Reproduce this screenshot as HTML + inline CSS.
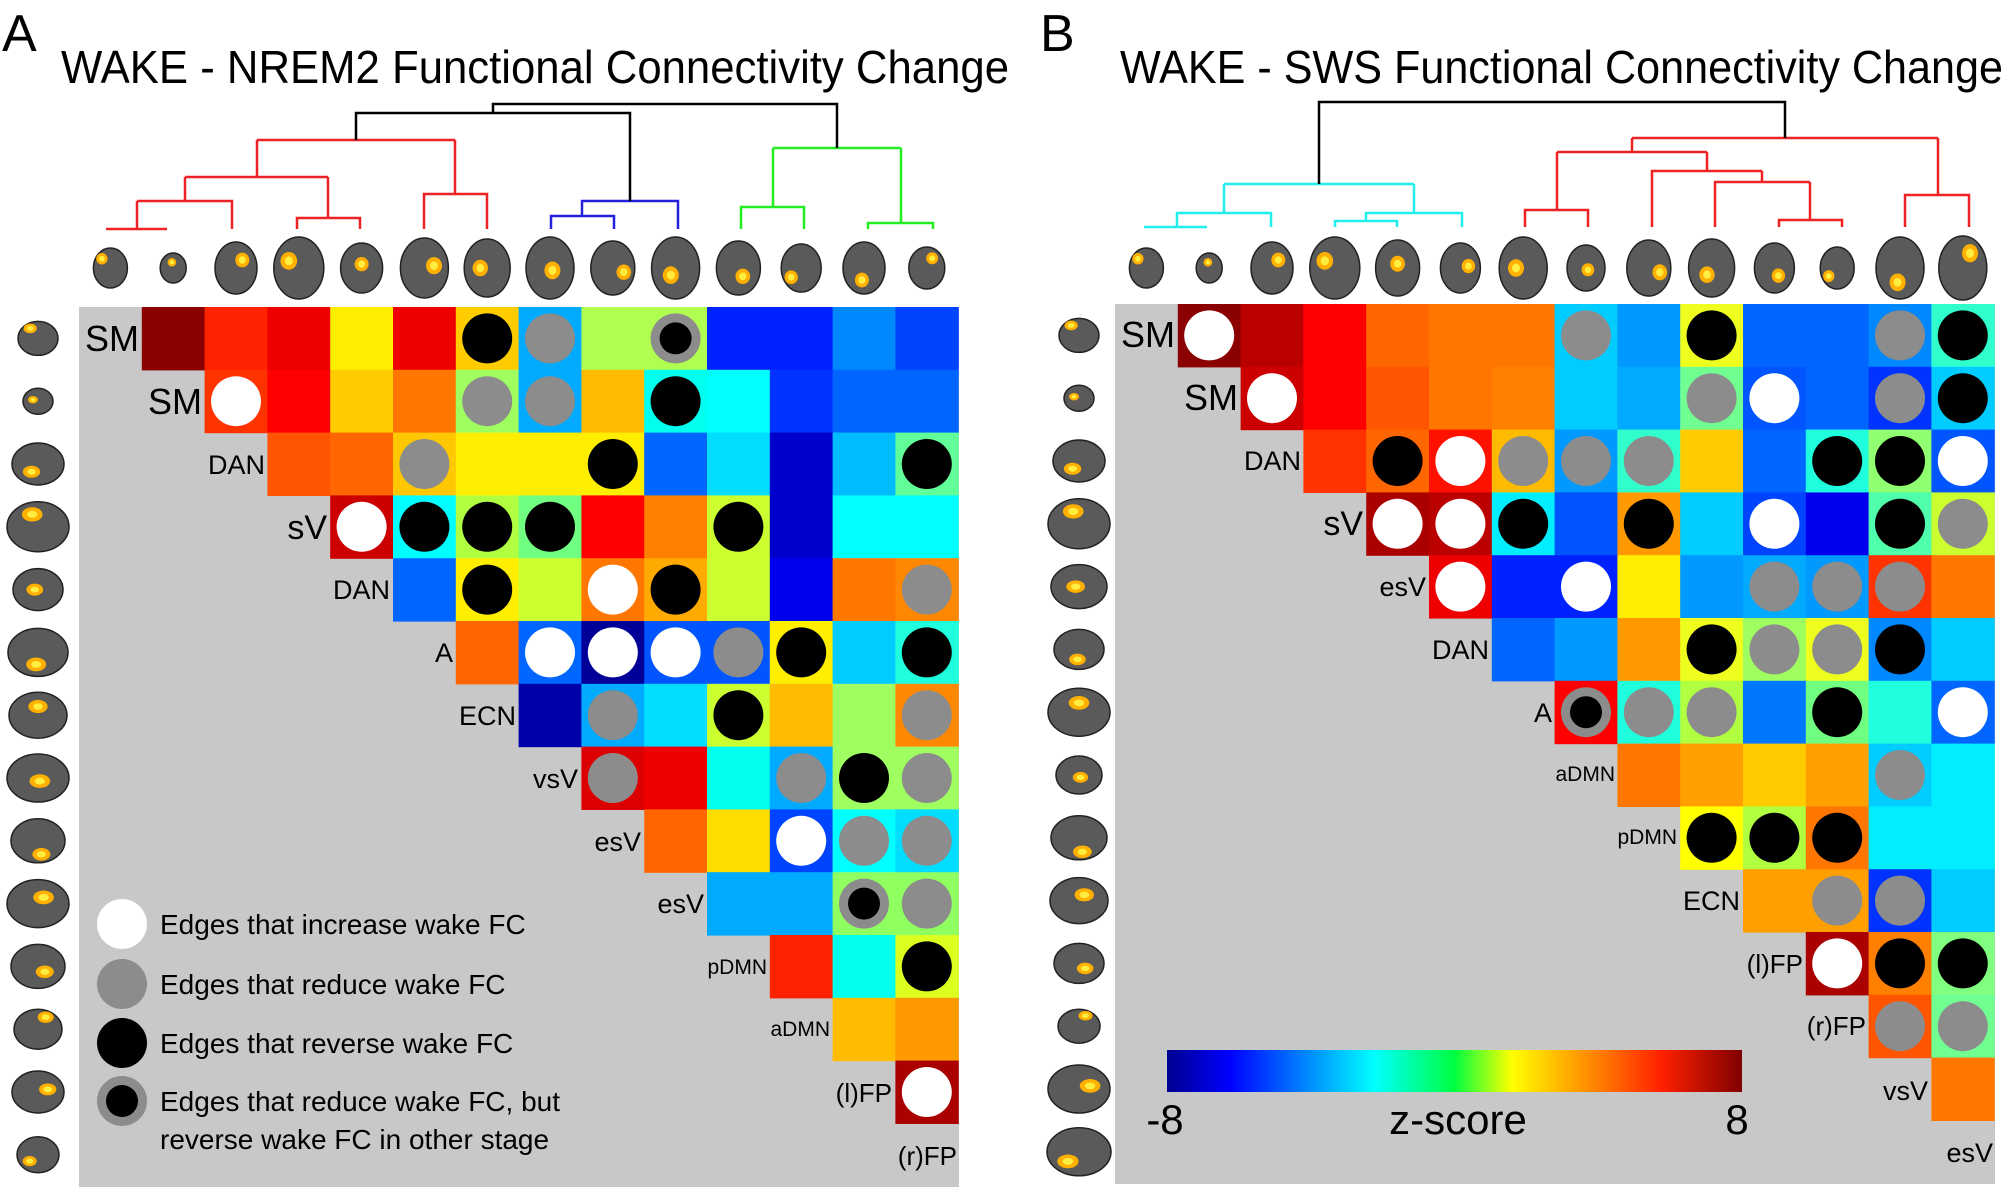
<!DOCTYPE html>
<html><head><meta charset="utf-8"><style>
html,body{margin:0;padding:0;background:#fff;}
svg{display:block;}
text{font-family:"Liberation Sans",sans-serif;fill:#000;}
</style></head><body>
<svg id="s" width="2007" height="1191" viewBox="0 0 2007 1191" xmlns="http://www.w3.org/2000/svg">
<rect width="2007" height="1191" fill="#fff"/>
<rect x="79" y="307" width="880" height="880" fill="#c8c8c8"/>
<rect x="1115" y="304" width="880" height="880" fill="#c8c8c8"/>
<g id="cells"></g>
<g id="brains"></g>
<!-- dendrogram A -->
<g fill="none" stroke-width="2.5">
<g stroke="#ee2222">
<path d="M106 229H167M137 229V201M137 201H232V229M185 201V177M297 229V218H360V229M328 218V177M185 177H328M257 177V140M424 229V194H487V229M455 194V140M257 140H455"/>
</g>
<g stroke="#2222dd"><path d="M551 229V216H614V229M582 216V201H678V229"/></g>
<g stroke="#22ee22"><path d="M741 229V207H804V229M773 207V148M868 229V223H933V229M901 223V148M773 148H901"/></g>
<g stroke="#000"><path d="M356 140V113H630V201M493 113V104H837V148"/></g>
<!-- dendrogram B -->
<g stroke="#22eeee"><path d="M1144 227H1207M1177 227V213H1271V227M1224 213V184M1335 227V221H1397V227M1366 221V213H1462V227M1414 213V184M1224 184H1414"/></g>
<g stroke="#ee2222"><path d="M1525 227V210H1588V227M1557 210V152M1779 227V220H1842V227M1810 220V182M1715 227V182H1810M1762 182V171M1652 227V171H1762M1707 171V152M1557 152H1707M1632 152V138M1905 227V195H1969V227M1938 195V138M1632 138H1938"/></g>
<g stroke="#000"><path d="M1319 184V102H1785V138"/></g>
</g>
<!-- titles -->
<text x="2" y="51" font-size="52">A</text>
<text x="61" y="83" font-size="46" textLength="948" lengthAdjust="spacingAndGlyphs">WAKE - NREM2 Functional Connectivity Change</text>
<text x="1040" y="51" font-size="52">B</text>
<text x="1120" y="83" font-size="46" textLength="883" lengthAdjust="spacingAndGlyphs">WAKE - SWS Functional Connectivity Change</text>
<!-- labels A -->
<g text-anchor="end">
<text x="139" y="351" font-size="36">SM</text>
<text x="202" y="414" font-size="36">SM</text>
<text x="265" y="474" font-size="27">DAN</text>
<text x="327" y="539" font-size="34">sV</text>
<text x="390" y="599" font-size="27">DAN</text>
<text x="453" y="662" font-size="27">A</text>
<text x="516" y="725" font-size="27">ECN</text>
<text x="578" y="788" font-size="27">vsV</text>
<text x="641" y="851" font-size="27">esV</text>
<text x="704" y="913" font-size="27">esV</text>
<text x="767" y="974" font-size="21">pDMN</text>
<text x="830" y="1036" font-size="21">aDMN</text>
<text x="892" y="1102" font-size="26">(l)FP</text>
<text x="957" y="1165" font-size="26">(r)FP</text>
<!-- labels B -->
<text x="1175" y="347" font-size="36">SM</text>
<text x="1238" y="410" font-size="36">SM</text>
<text x="1301" y="470" font-size="27">DAN</text>
<text x="1363" y="535" font-size="34">sV</text>
<text x="1426" y="596" font-size="27">esV</text>
<text x="1489" y="659" font-size="27">DAN</text>
<text x="1552" y="722" font-size="27">A</text>
<text x="1615" y="781" font-size="21">aDMN</text>
<text x="1677" y="844" font-size="21">pDMN</text>
<text x="1740" y="910" font-size="27">ECN</text>
<text x="1803" y="973" font-size="26">(l)FP</text>
<text x="1866" y="1035" font-size="26">(r)FP</text>
<text x="1928" y="1100" font-size="27">vsV</text>
<text x="1993" y="1162" font-size="27">esV</text>
</g>
<!-- legend -->
<circle cx="122" cy="924" r="25" fill="#fff"/>
<circle cx="122" cy="984" r="25" fill="#8c8c8c"/>
<circle cx="122" cy="1043" r="25" fill="#000"/>
<circle cx="122" cy="1101" r="25" fill="#8c8c8c"/><circle cx="122" cy="1101" r="16" fill="#000"/>
<text x="160" y="934" font-size="28">Edges that increase wake FC</text>
<text x="160" y="994" font-size="28">Edges that reduce wake FC</text>
<text x="160" y="1053" font-size="28">Edges that reverse wake FC</text>
<text x="160" y="1111" font-size="28">Edges that reduce wake FC, but</text>
<text x="160" y="1149" font-size="28">reverse wake FC in other stage</text>
<!-- colorbar -->
<defs><linearGradient id="jet" x1="0" x2="1" y1="0" y2="0">
<stop offset="0" stop-color="#00008f"/><stop offset="0.11" stop-color="#0000ff"/><stop offset="0.36" stop-color="#00ffff"/><stop offset="0.5" stop-color="#00ff40"/><stop offset="0.6" stop-color="#ffff00"/><stop offset="0.86" stop-color="#ff2000"/><stop offset="1" stop-color="#800000"/></linearGradient></defs>
<rect x="1167" y="1050" width="575" height="42" fill="url(#jet)"/>
<text x="1165" y="1134" font-size="42" text-anchor="middle">-8</text>
<text x="1458" y="1134" font-size="42" text-anchor="middle">z-score</text>
<text x="1737" y="1134" font-size="42" text-anchor="middle">8</text>
</svg>
<script>
var NS="http://www.w3.org/2000/svg";
function el(p,t,a){var e=document.createElementNS(NS,t);for(var k in a)e.setAttribute(k,a[k]);p.appendChild(e);return e;}
var A=[
"8b0000 ff2200 ee0000 ffee00 ee0000 ffcc00:K 00aaff:G b0ff50 b0ff50:R 0022ff 0022ff 0088ff 0044ff",
"ff3300:W ff0000 ffcc00 ff7700 a0ff60:G 00aaff:G ffbb00 00ffee:K 00ffff 0033ff 0066ff 0066ff",
"ff5500 ff6600 ffc800:G ffee00 ffee00 ffee00:K 0066ff 00ddff 0000cc 00bbff 60ff99:K",
"cc0000:W 00ffff:K b0ff40:K 70ff80:K ff0000 ff8000 ccff30:K 0000cc 00ffff 00ffff",
"0066ff ffee00:K ccff30 ff7700:W ffaa00:K ccff30 0000ee ff7700 ff8800:G",
"ff6600 0066ff:W 000099:W 0055ff:W 0055ff:G ffee00:K 00ccff 20ffdd:K",
"0000aa 00aaff:G 00ddff ccff30:K ffbb00 a0ff60 ff8800:G",
"dd0000:G ee0000 00ffee 00aaff:G a0ff60:K a0ff60:G",
"ff6600 ffdd00 0044ff:W 00ffff:G 00ddff:G",
"00aaff 00aaff 90ff60:R 90ff60:G",
"ff2200 00ffee ddff20:K",
"ffbb00 ff9900",
"aa0000:W"];
var B=[
"8b0000:W bb0000 ff0000 ff6600 ff7700 ff7700 00ccff:G 0099ff eeff20:K 0066ff 0066ff 0088ff:G 30ffcc:K",
"cc0000:W ff0000 ff5500 ff7700 ff8000 00ccff 00aaff 70ff90:G 0055ff:W 0066ff 0033ff:G 00ccff:K",
"ff3300 ff6600:K ff1100:W ffbb00:G 0099ff:G 30ffcc:G ffcc00 0066ff 20ffdd:K 90ff70:K 0055ff:W",
"aa0000:W bb0000:W 00eeff:K 0055ff ff9900:K 00ccff 0044ff:W 0000ee 50ffaa:K ccff30:G",
"ee0000:W 0022ff 0022ff:W ffee00 0099ff 00aaff:G 0099ff:G ff3300:G ff7700",
"0066ff 0099ff ff9900 eeff20:K a0ff60:G eeff20:G 0088ff:K 00ccff",
"ff0000:R 20ffdd:G b0ff40:G 0077ff 70ff80:K 20ffdd 0066ff:W",
"ff7700 ffa000 ffcc00 ffa000 00ccff:G 00eeff",
"ffff00:K b0ff40:K ff7700:K 00eeff 00eeff",
"ffa000 ffa000:G 0033ff:G 00ccff",
"aa0000:W ff8000:K 80ff80:K",
"ff5500:G 70ff90:G",
"ff7700"];
var g=document.getElementById("cells"),c=62.8;
function draw(D,L,T){for(var i=0;i<D.length;i++){var it=D[i].split(" ");for(var k=0;k<it.length;k++){var j=i+1+k,p=it[k].split(":");var x=L+j*c,y=T+i*c;
el(g,"rect",{x:x.toFixed(1),y:y.toFixed(1),width:(c+0.6).toFixed(1),height:(c+0.6).toFixed(1),fill:"#"+p[0]});
var cx=x+c/2,cy=y+c/2;if(p[1]=="W")el(g,"circle",{cx:cx,cy:cy,r:25,fill:"#fff"});
if(p[1]=="G")el(g,"circle",{cx:cx,cy:cy,r:25,fill:"#8c8c8c"});
if(p[1]=="K")el(g,"circle",{cx:cx,cy:cy,r:25,fill:"#000"});
if(p[1]=="R"){el(g,"circle",{cx:cx,cy:cy,r:25,fill:"#8c8c8c"});el(g,"circle",{cx:cx,cy:cy,r:16,fill:"#000"});}}}}
draw(A,79,307);draw(B,1115,304);
var SA=[[34,40],[26,30],[42,52],[50,62],[42,50],[48,60],[46,58],[48,62],[44,54],[48,62],[44,54],[40,48],[42,52],[36,42]];
var SB=[[34,40],[26,30],[42,52],[50,62],[44,56],[40,50],[48,62],[38,46],[44,56],[46,58],[40,50],[34,42],[48,62],[48,64]];
var bg=document.getElementById("brains");
function brain(cx,cy,w,h,rot,i){el(bg,"ellipse",{cx:cx,cy:cy,rx:w/2,ry:h/2,fill:"#5a5a5a",stroke:"#222","stroke-width":1.5});
var dx=((i*37)%11-5)/20*w,dy=((i*53)%13-6)/26*h;if(rot){var t=dx;dx=dy;dy=t;}
el(bg,"ellipse",{cx:cx+dx,cy:cy+dy,rx:w/6,ry:h/7,fill:"#ffb000"});el(bg,"ellipse",{cx:cx+dx,cy:cy+dy,rx:w/12,ry:h/14,fill:"#ffee40"});}
function brains(S,L,T,lx){for(var i=0;i<14;i++){brain(L+(i+.5)*c,268,S[i][0],S[i][1],0,i);brain(lx,T+(i+.5)*c,S[i][1],S[i][0],1,i);}}
brains(SA,79,307,38);brains(SB,1115,304,1079);
</script>
</body></html>
